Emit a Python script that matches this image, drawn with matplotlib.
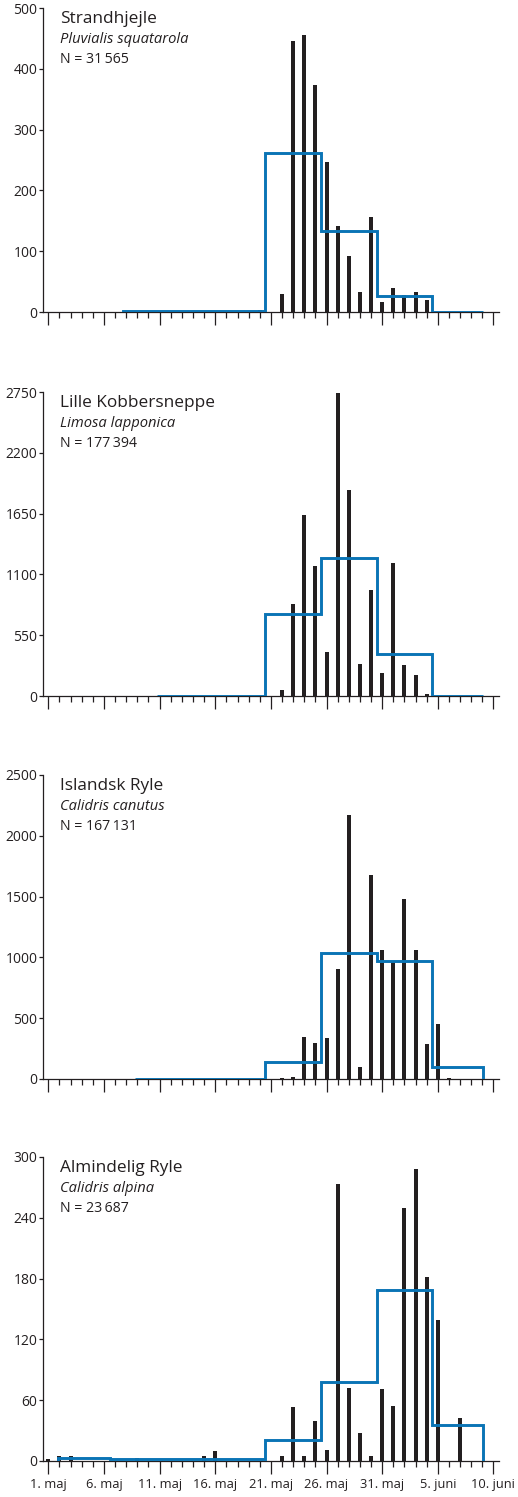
import matplotlib.pyplot as plt

plt.rcParams['font.family'] = ['Open Sans', 'DejaVu Sans']

# dage regnet fra 1. maj (= 0)
strand_days = [19, 21, 22, 23, 24, 25, 26, 27, 28, 29, 30, 31, 32, 33, 34]
strand_counts = [3, 30, 445, 456, 374, 247, 142, 92, 33, 156, 16, 40, 28, 33, 20]
strand_edges = [6.75, 19.5, 24.5, 29.5, 34.5, 39.1]
strand_mean = [1, 261, 134, 27, 0]

lille_days = [21, 22, 23, 24, 25, 26, 27, 28, 29, 30, 31, 32, 33, 34]
lille_counts = [57, 832, 1640, 1177, 396, 2740, 1866, 287, 959, 206, 1204, 278, 188, 15]
lille_edges = [9.75, 19.5, 24.5, 29.5, 34.5, 39.1]
lille_mean = [0, 741, 1250, 377, 0]

island_days = [21, 22, 23, 24, 25, 26, 27, 28, 29, 30, 31, 32, 33, 34, 35, 36]
island_counts = [8, 19, 349, 299, 341, 901, 2170, 102, 1676, 1058, 970, 1478, 1058, 291, 456, 8]
island_edges = [7.75, 19.5, 24.5, 29.5, 34.5, 39.1]
island_mean = [0, 137, 1038, 972, 95]

almind_days = [0, 1, 2, 8, 14, 15, 21, 22, 23, 24, 25, 26, 27, 28, 29, 30, 31, 32, 33, 34, 35, 37]
almind_counts = [2, 5, 5, 3, 5, 10, 5, 53, 5, 39, 11, 273, 72, 28, 5, 71, 54, 250, 288, 182, 139, 42]
almind_edges = [0.9, 5.5, 19.5, 24.5, 29.5, 34.5, 39.1]
almind_mean = [3, 2, 21, 78, 169, 36]

names = ["Strandhjejle", "Lille Kobbersneppe", "Islandsk Ryle", "Almindelig Ryle"]
latin = ["Pluvialis squatarola", "Limosa lapponica", "Calidris canutus", "Calidris alpina"]
n_text = ["N = 31\u2009565", "N = 177\u2009394", "N = 167\u2009131", "N = 23\u2009687"]
y_max = [500, 2750, 2500, 300]
y_step = [100, 550, 500, 60]

x_ticks = [0, 5, 10, 15, 20, 25, 30, 35, 40]
x_labels = ["1. maj", "6. maj", "11. maj", "16. maj", "21. maj", "26. maj",
            "31. maj", "5. juni", "10. juni"]

panels = [
    (strand_days, strand_counts, strand_edges, strand_mean),
    (lille_days, lille_counts, lille_edges, lille_mean),
    (island_days, island_counts, island_edges, island_mean),
    (almind_days, almind_counts, almind_edges, almind_mean),
]

dark = '#231f20'
blue = '#0a74b5'

fig = plt.figure(figsize=(5.18, 14.97), dpi=100)
tops = [8, 392, 775, 1157]
H = 1497.0
for i, (days, counts, edges, mean) in enumerate(panels):
    top = tops[i]
    ax = fig.add_axes([43 / 518, 1 - (top + 304) / H, 456 / 518, 304 / H])
    ax.bar(days, counts, width=0.36, color=dark, zorder=2)
    ax.stairs(mean, edges, baseline=0, color=blue, lw=2.1, zorder=3)

    ax.set_xlim(-0.48, 40.5)
    ax.set_ylim(0, y_max[i])
    ax.set_yticks(range(0, y_max[i] + 1, y_step[i]))
    ax.set_xticks(x_ticks)
    ax.set_xticks(range(0, 41), minor=True)
    ax.tick_params(axis='x', which='major', direction='out', length=9.5, width=0.9, color=dark)
    ax.tick_params(axis='x', which='minor', direction='out', length=4.5, width=0.9, color=dark)
    ax.tick_params(axis='y', direction='out', length=3, width=0.9, color=dark,
                   labelsize=10, labelcolor=dark, pad=1)
    if i == 3:
        ax.set_xticklabels(x_labels, fontsize=9.3, color=dark)
        ax.tick_params(axis='x', which='major', pad=3)
    else:
        ax.tick_params(axis='x', labelbottom=False)

    for s in ['top', 'right']:
        ax.spines[s].set_visible(False)
    for s in ['left', 'bottom']:
        ax.spines[s].set_color(dark)
        ax.spines[s].set_linewidth(0.9)

    ax.text(0.037, 0.950, names[i], transform=ax.transAxes, fontsize=12.4, color=dark)
    ax.text(0.037, 0.886, latin[i], transform=ax.transAxes, fontsize=10.6, color=dark,
            style='italic')
    ax.text(0.037, 0.820, n_text[i], transform=ax.transAxes, fontsize=10.2, color=dark)

fig.savefig('out.png', dpi=100)
